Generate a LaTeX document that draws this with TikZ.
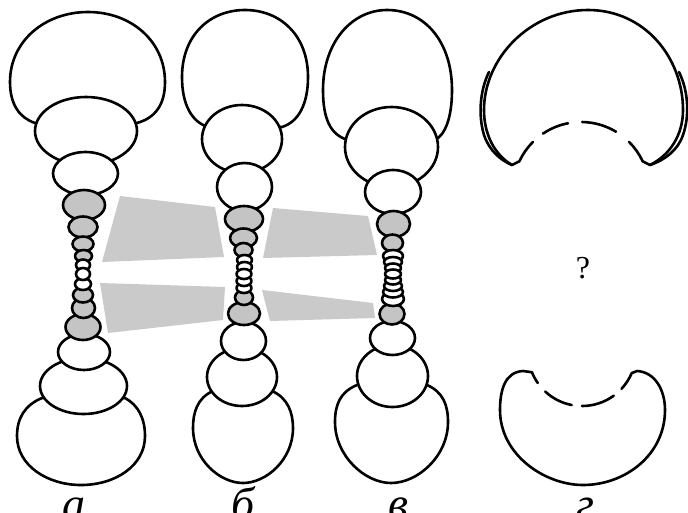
\documentclass[tikz,border=0pt]{standalone}
\usepackage{fontspec}
\setmainfont{Liberation Serif}
\usetikzlibrary{calc}
\definecolor{seggrey}{RGB}{196,196,196}
\definecolor{bandgrey}{RGB}{202,202,202}
% one white or grey segment of a chain: centre x, centre y, x radius, y radius
\newcommand\ringw[4]{\path[wseg] (#1,#2) ellipse [x radius=#3, y radius=#4];}
\newcommand\ringg[4]{\path[gseg] (#1,#2) ellipse [x radius=#3, y radius=#4];}
\begin{document}
\begin{tikzpicture}[x=1pt,y=-1pt,
  outline/.style={draw=black,line width=2.6pt,line join=round,line cap=round},
  wseg/.style={outline,fill=white},
  gseg/.style={outline,fill=seggrey},
  band/.style={fill=bandgrey},
  letter/.style={font=\fontsize{46}{46}\selectfont\itshape,anchor=base,inner sep=0pt},
  query/.style={font=\fontsize{32}{32}\selectfont,inner sep=0pt}]
\clip (0,0) rectangle (688,512);
\fill[white] (0,0) rectangle (688,512);

% grey bands between the chains
\fill[band] (120,196) -- (215,207) -- (224,257) -- (102,262) -- cycle;
\fill[band] (100,283) -- (225,287) -- (223,320) -- (108,333) -- cycle;
\fill[band] (273,208) -- (368,216) -- (377,255) -- (263,258) -- cycle;
\fill[band] (262,290) -- (373,303) -- (375,318) -- (270,321) -- cycle;

% ---- chain a ----
\path[wseg] (35,123) .. controls (20,118) and (10,105) .. (10,82)
  .. controls (10,41) and (45,12) .. (88,12)
  .. controls (131,12) and (165,41) .. (165,82)
  .. controls (165,105) and (155,118) .. (137,123) -- cycle;
\ringw{86}{131}{51}{34}
\ringw{85.5}{173.5}{32.5}{21.5}
\ringg{84}{205}{21}{15}
\ringg{83}{227}{14.5}{10.5}
\ringg{83}{244}{10.5}{7.5}
\ringg{83.5}{256}{8.5}{6}
\ringw{83}{265}{7}{5.5}
\path[wseg] (42,398) .. controls (25,405) and (17,418) .. (17,436)
  .. controls (17,466) and (48,485) .. (81,485)
  .. controls (115,485) and (145,466) .. (145,436)
  .. controls (145,418) and (138,405) .. (125,398) -- cycle;
\ringw{83.5}{386}{43.5}{28}
\ringw{84}{352}{26}{18}
\ringg{83}{327}{17.5}{13}
\ringg{83.5}{308}{11.5}{10}
\ringg{83}{295}{10}{7.5}
\ringw{83}{284}{8}{6}
\ringw{83}{274}{7}{6}

% ---- chain b ----
\path[wseg] (208,127) .. controls (192,122) and (182,105) .. (182,77)
  .. controls (182,35) and (210,10) .. (245,10)
  .. controls (280,10) and (308,35) .. (308,77)
  .. controls (308,105) and (298,122) .. (282,127) -- cycle;
\ringw{242}{139}{40}{34}
\ringw{244.5}{187}{27.5}{24}
\ringg{244}{219}{19}{13}
\ringg{243.5}{238}{13.5}{9.5}
\ringg{243.5}{250}{9}{7}
\ringw{244.5}{260}{7.5}{5}
\ringw{244.5}{267}{7.5}{5}
\path[wseg] (213,391) .. controls (197,398) and (193,413) .. (193,428)
  .. controls (193,460) and (220,483) .. (243,483)
  .. controls (266,483) and (293,460) .. (293,428)
  .. controls (293,413) and (288,398) .. (272,391) -- cycle;
\ringw{242}{377}{35}{29}
\ringw{243.5}{341}{22.5}{19}
\ringg{244}{313.5}{16}{11.5}
\ringg{244}{297.5}{9}{7.5}
\ringw{244}{288}{7.5}{5}
\ringw{244}{281}{7.5}{5}
\ringw{244}{274}{7.5}{5}

% ---- chain c ----
\path[wseg] (348,140) .. controls (330,135) and (323,118) .. (323,90)
  .. controls (323,42) and (352,10) .. (387,10)
  .. controls (425,10) and (452,42) .. (452,90)
  .. controls (452,118) and (445,135) .. (435,140) -- cycle;
\ringw{391.5}{147}{46.5}{40}
\ringw{393}{192}{28}{22}
\ringg{393.5}{224}{16.5}{13}
\ringg{392.5}{243}{10.5}{8.5}
\ringw{393}{256}{10}{6}
\ringw{393}{262}{9}{5}
\ringw{393}{268}{8}{4.5}
\path[wseg] (357,385) .. controls (340,392) and (335,405) .. (335,422)
  .. controls (335,456) and (365,483) .. (391,483)
  .. controls (418,483) and (448,456) .. (448,422)
  .. controls (448,405) and (443,392) .. (427,385) -- cycle;
\ringw{392.5}{376}{35.5}{31}
\ringw{392.5}{338}{22.5}{17}
\ringg{392}{314}{12.5}{10.5}
\ringw{393}{299}{11}{7}
\ringw{393}{292}{10}{5.5}
\ringw{393}{286}{9}{5}
\ringw{393}{280}{8}{4.5}
\ringw{393}{274}{8}{4.5}

% ---- end pieces d with an unknown middle ----
% upper cap: double rim at the sides, concave underside
\draw[outline] ($(581,190)+(-135:68)$) arc [start angle=-135, end angle=-155, radius=68]
  -- (512,165) .. controls (495,155) and (484,135) .. (484,110)
  .. controls (484,58) and (530,10) .. (588,10)
  .. controls (645,10) and (683,58) .. (683,110)
  .. controls (683,135) and (670,155) .. (650,165)
  -- ($(581,190)+(-25:68)$) arc [start angle=-25, end angle=-45, radius=68];
\draw[outline] (489,72) .. controls (480,90) and (478,115) .. (484,135)
  .. controls (489,150) and (500,160) .. (512,165);
\draw[outline] (679,72) .. controls (688,90) and (690,115) .. (683,135)
  .. controls (678,150) and (665,160) .. (650,165);
\draw[outline] ($(581,190)+(-124:68)$) arc [start angle=-124, end angle=-101, radius=68];
\draw[outline] ($(581,190)+(-89:68)$) arc [start angle=-89, end angle=-59, radius=68];
% lower cap
\draw[outline] ($(582,352)+(145:54)$) arc [start angle=145, end angle=158, radius=54]
  -- (523,371) .. controls (505,372) and (500,390) .. (500,410)
  .. controls (500,455) and (545,485) .. (583,485)
  .. controls (625,485) and (665,455) .. (665,410)
  .. controls (665,390) and (655,372) .. (637,371)
  -- ($(582,352)+(23:54)$) arc [start angle=23, end angle=43, radius=54];
\draw[outline] ($(582,352)+(133:54)$) arc [start angle=133, end angle=101, radius=54];
\draw[outline] ($(582,352)+(90:54)$) arc [start angle=90, end angle=54, radius=54];
\node[query] (q) at (583,268) {?};

% captions
\node[letter] (la) at (74,519) {а};
\node[letter] (lb) at (243,519) {б};
\node[letter] (lc) at (398,519) {в};
\node[letter] (ld) at (585,519) {г};
\end{tikzpicture}
\end{document}
